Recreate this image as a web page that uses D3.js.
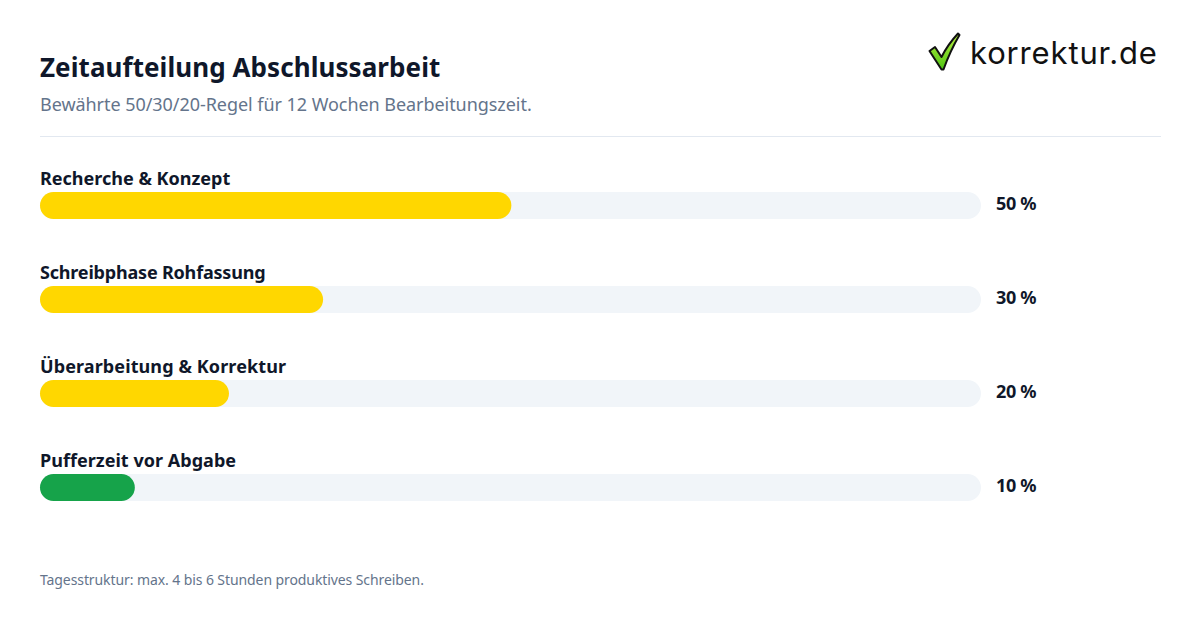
<!DOCTYPE html>
<html><head><meta charset="utf-8">
<script src="https://cdn.jsdelivr.net/npm/d3@7"></script>
<style>html,body{margin:0;padding:0;background:#fff}svg{display:block}text{font-family:"Noto Sans",sans-serif}</style>
</head><body><svg id="c" width="1200" height="630"></svg>
<script>
const categories=["Recherche & Konzept","Schreibphase Rohfassung","Überarbeitung & Korrektur","Pufferzeit vor Abgabe"];
const values=[50,30,20,10];
const barColors=["#ffd700","#ffd700","#ffd700","#16a34a"];
const labelSpacing=[0,-0.19,0.1,0.03];
const title="Zeitaufteilung Abschlussarbeit";
const subtitle="Bewährte 50/30/20-Regel für 12 Wochen Bearbeitungszeit.";
const footnote="Tagesstruktur: max. 4 bis 6 Stunden produktives Schreiben.";
const logoText="korrektur.de";

const svg=d3.select("#c");
svg.append("rect").attr("width",1200).attr("height",630).attr("fill","#fff");
const x=d3.scaleLinear().domain([0,100]).range([40.7,982]);
const y=d3.scalePoint().domain(categories).range([192,474]);
const h=27;
const dark="#0f172a",muted="#64748b";
svg.append("text").attr("x",40).attr("y",77).attr("font-size",26).attr("font-weight",700).attr("fill",dark).attr("letter-spacing",0.07).text(title);
svg.append("text").attr("x",40).attr("y",111).attr("font-size",18).attr("fill",muted).attr("letter-spacing",-0.05).text(subtitle);
svg.append("line").attr("x1",40).attr("x2",1161).attr("y1",136.5).attr("y2",136.5).attr("stroke","#e2e8f0");
const g=svg.selectAll("g.row").data(categories).join("g").attr("class","row");
g.append("text").attr("x",40).attr("y",d=>y(d)-7).attr("font-size",18).attr("font-weight",700).attr("fill",dark).attr("letter-spacing",(d,i)=>labelSpacing[i]).text(d=>d);
g.append("rect").attr("x",40).attr("y",d=>y(d)).attr("width",941).attr("height",h).attr("rx",13.5).attr("fill","#f1f5f9");
g.append("rect").attr("x",40).attr("y",d=>y(d)).attr("width",(d,i)=>x(values[i])-40).attr("height",h).attr("rx",13.5).attr("fill",(d,i)=>barColors[i]);
g.append("text").attr("x",996).attr("y",d=>y(d)+18).attr("font-size",18).attr("font-weight",700).attr("fill",dark).attr("letter-spacing",-0.3).text((d,i)=>values[i]+" %");
svg.append("text").attr("x",40).attr("y",585).attr("font-size",14).attr("fill",muted).attr("letter-spacing",-0.09).text(footnote);
// logo
const defs=svg.append("defs");
const lgr=defs.append("linearGradient").attr("id","lime").attr("x1",0).attr("y1",0).attr("x2",0).attr("y2",1);
lgr.append("stop").attr("offset",0).attr("stop-color","#b8f040");
lgr.append("stop").attr("offset",1).attr("stop-color","#4fc414");
const lg=svg.append("g");
lg.append("path").attr("d","M929.5 51 L935 47 L941.5 57 C946 48 952 40 958 33.5 L959.5 35 C953 46 948 57 943.5 69.5 L941.5 69.5 Z").attr("fill","url(#lime)").attr("stroke","#111").attr("stroke-width",2).attr("stroke-linejoin","round");
lg.append("text").attr("x",970).attr("y",64).attr("font-size",31).style("font-family","Inter").attr("letter-spacing",0.85).attr("fill","#111").text(logoText);
</script></body></html>
